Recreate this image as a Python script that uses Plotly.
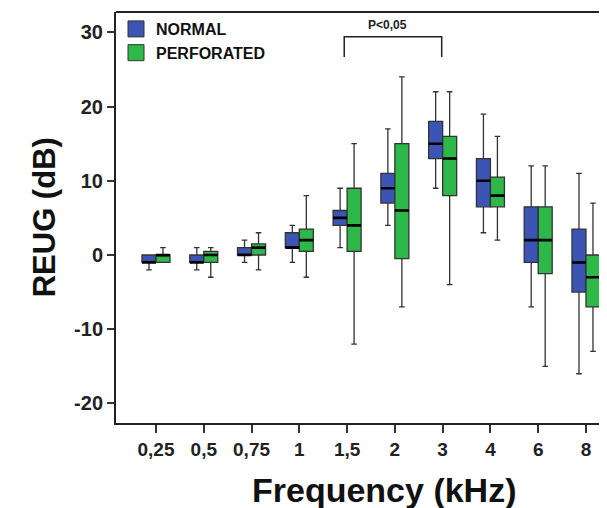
import plotly.graph_objects as go

categories = ["0,25", "0,5", "0,75", "1", "1,5", "2", "3", "4", "6", "8"]

normal_lower = [-2, -2, -1, -1, 1, 4, 9, 3, -7, -16]
normal_q1 = [-1, -1, 0, 1, 4, 7, 13, 6.5, -1, -5]
normal_median = [-1, -1, 0, 1, 5, 9, 15, 10, 2, -1]
normal_q3 = [0, 0, 1, 3, 6, 11, 18, 13, 6.5, 3.5]
normal_upper = [0, 1, 2, 4, 9, 17, 22, 19, 12, 11]

perf_lower = [-1, -3, -2, -3, -12, -7, -4, 2, -15, -13]
perf_q1 = [-1, -1, 0, 0.5, 0.5, -0.5, 8, 6.5, -2.5, -7]
perf_median = [0, 0, 1, 2, 4, 6, 13, 8, 2, -3]
perf_q3 = [0, 0.5, 1.5, 3.5, 9, 15, 16, 10.5, 6.5, 0]
perf_upper = [1, 1, 3, 8, 15, 24, 22, 16, 12, 7]

y_ticks = [-20, -10, 0, 10, 20, 30]
y_tick_labels = ["-20", "-10", "0", "10", "20", "30"]
series_names = ["NORMAL", "PERFORATED"]
sig_label = "P<0,05"
sig_from, sig_to = "1,5", "3"

BLUE = "#3C54B4"
GREEN = "#2EB84A"
FONT = "Liberation Sans, Arial, sans-serif"

fig = go.Figure()

series = [
    (series_names[0], "n", BLUE, normal_lower, normal_q1, normal_median, normal_q3, normal_upper),
    (series_names[1], "p", GREEN, perf_lower, perf_q1, perf_median, perf_q3, perf_upper),
]
for name, grp, color, lf, q1, med, q3, uf in series:
    fig.add_trace(go.Box(
        name=name, x=categories, q1=q1, median=med, q3=q3,
        lowerfence=lf, upperfence=uf,
        fillcolor=color, line=dict(color="#333333", width=1.3),
        whiskerwidth=0.4, offsetgroup=grp, boxpoints=False,
        hoverinfo="skip", showlegend=False,
    ))
for name, grp, color, lf, q1, med, q3, uf in series:
    fig.add_trace(go.Box(
        name=name + " median", x=categories, q1=med, median=med, q3=med,
        lowerfence=med, upperfence=med,
        fillcolor="rgba(0,0,0,0)", line=dict(color="#000000", width=2.6),
        whiskerwidth=0, offsetgroup=grp, boxpoints=False,
        showlegend=False, hoverinfo="skip",
    ))
# legend entries (square swatches)
for name, grp, color, *_ in series:
    fig.add_trace(go.Scatter(
        name=name, x=[None], y=[None], mode="markers",
        marker=dict(symbol="square", size=16, color=color,
                    line=dict(color="#333333", width=1)),
        showlegend=True, hoverinfo="skip",
    ))

i0 = categories.index(sig_from)
i1 = categories.index(sig_to)
x_left = i0 - 0.06
x_right = i1 - 0.02
fig.add_shape(type="path",
              path=f"M {x_left},26.7 L {x_left},29.4 L {x_right},29.4 L {x_right},26.7",
              xref="x", yref="y", line=dict(color="#222222", width=1.5))
fig.add_annotation(x=(x_left + x_right) / 2 - 0.12, y=31.0, xref="x", yref="y",
                   text=sig_label, showarrow=False,
                   font=dict(family=FONT, size=12, color="#222222", weight="bold"))

# top border line
fig.add_shape(type="line", x0=0, x1=1, y0=1, y1=1, xref="paper", yref="paper",
              line=dict(color="#222222", width=2))

fig.add_annotation(text="REUG (dB)", textangle=-90, xref="paper", yref="paper",
                   x=-0.145, y=0.5, xanchor="center", yanchor="middle", showarrow=False,
                   font=dict(family=FONT, size=31, color="#111111", weight="bold"))
fig.add_annotation(text="Frequency (kHz)", xref="paper", yref="paper",
                   x=0.546, y=-0.163, xanchor="center", yanchor="middle", showarrow=False,
                   font=dict(family=FONT, size=34, color="#111111", weight="bold"))

# page body has an 8px margin: figure is sized/offset to compensate
fig.update_layout(
    width=599, height=500,
    margin=dict(l=108, r=0, t=4, b=85),
    plot_bgcolor="white", paper_bgcolor="white",
    boxmode="group", boxgap=0.414, boxgroupgap=0,
    showlegend=True,
    legend=dict(x=0.0, y=1.0, xanchor="left", yanchor="top",
                bgcolor="rgba(0,0,0,0)", borderwidth=0,
                font=dict(family=FONT, size=16, color="#111111", weight="bold"),
                tracegroupgap=0, itemwidth=30, itemsizing="trace"),
    font=dict(family=FONT),
)
fig.update_xaxes(type="category", categoryorder="array", categoryarray=categories,
                 range=[-0.837, 9.44], showgrid=False, zeroline=False,
                 showline=True, linecolor="#222222", linewidth=2,
                 ticks="outside", ticklen=8, tickwidth=1.5, tickcolor="#333333",
                 tickfont=dict(family=FONT, size=19, color="#222222", weight="bold"))
fig.update_yaxes(range=[-22.64, 32.75], tickvals=y_ticks, ticktext=y_tick_labels,
                 showgrid=False, zeroline=False,
                 showline=True, linecolor="#222222", linewidth=2,
                 ticks="outside", ticklen=7, tickwidth=1.5, tickcolor="#333333",
                 tickfont=dict(family=FONT, size=20, color="#222222", weight="bold"))

fig.write_html("out.html")
